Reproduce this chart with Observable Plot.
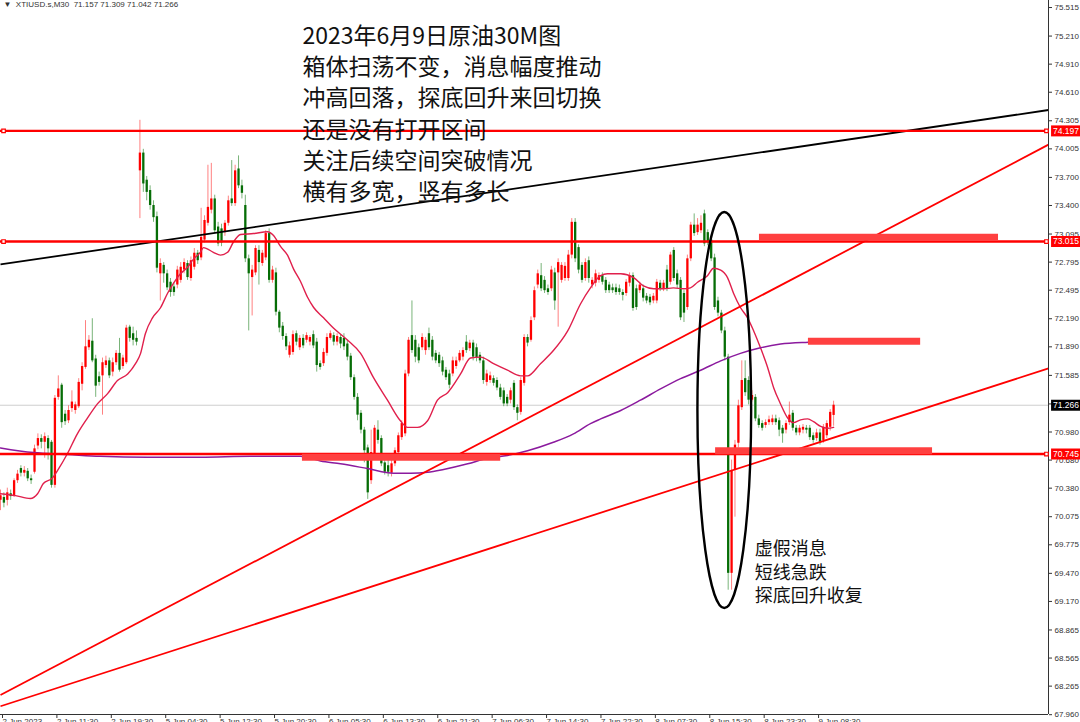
<!DOCTYPE html>
<html><head><meta charset="utf-8">
<script src="https://cdn.jsdelivr.net/npm/d3@7"></script>
<script src="https://cdn.jsdelivr.net/npm/@observablehq/plot@0.6"></script>
<style>
body{margin:0;background:#fff;}
#chart{width:1080px;height:722px;overflow:hidden;}
</style></head><body><div id="chart"></div>
<script>
// ---- Candle data (30M bars, index 0 = first visible bar) ----
const opens=[70.25,70.28,70.25,70.32,70.30,70.46,70.59,70.54,70.56,70.48,
70.55,70.83,70.91,70.87,70.91,70.87,70.41,71.35,71.48,71.17,
71.10,71.23,71.21,71.25,71.49,71.67,71.88,71.95,71.76,71.57,
71.58,71.69,71.74,71.62,71.72,71.82,71.68,71.72,72.10,72.03,
71.98,73.77,73.96,73.67,73.56,73.40,73.28,72.67,72.76,72.67,
72.58,72.53,72.55,72.60,72.71,72.78,72.62,72.74,72.89,72.84,
73.03,73.21,73.35,73.47,73.17,73.15,73.11,73.21,73.47,73.42,
73.79,73.61,73.40,72.83,72.63,72.68,72.92,72.78,72.84,73.10,
72.60,72.68,72.26,72.11,72.00,71.80,71.83,72.03,71.88,71.98,
71.96,71.94,72.02,71.94,71.71,71.71,71.82,71.98,72.01,71.94,
71.99,71.98,71.92,71.79,71.56,71.35,71.18,71.00,70.81,70.46,
70.75,71.00,70.91,70.65,70.62,70.54,70.64,70.76,70.92,70.96,
71.60,72.01,71.96,71.88,71.88,71.85,72.03,71.96,71.82,71.80,
71.74,71.64,71.60,71.60,71.68,71.74,71.78,71.94,71.87,71.93,
71.88,71.80,71.74,71.51,71.53,71.55,71.53,71.45,71.42,71.35,
71.32,71.50,71.24,71.19,71.50,71.99,71.96,72.20,72.55,72.65,
72.60,72.51,72.51,72.68,72.68,72.60,72.62,72.62,72.87,73.22,
72.95,72.76,72.62,72.81,72.55,72.57,72.60,72.65,72.60,72.55,
72.52,72.52,72.51,72.47,72.46,72.57,72.65,72.51,72.49,72.51,
72.43,72.42,72.38,72.38,72.57,72.51,72.71,72.58,72.92,72.67,
72.60,72.46,72.31,72.83,73.19,73.11,73.13,73.31,73.11,73.03,
72.84,72.38,72.25,72.06,71.78,69.47,70.57,70.86,71.24,71.55,
71.53,71.32,71.35,71.12,71.07,71.05,71.08,71.08,71.12,71.10,
71.02,71.00,71.08,71.18,71.02,70.97,71.00,71.02,71.02,70.94,
70.91,70.97,70.89,70.94,71.03,71.157];
const highs=[70.36,70.33,70.38,70.36,70.48,70.57,70.62,70.61,70.59,70.52,
70.84,70.96,70.95,70.97,70.94,70.89,71.37,71.58,71.50,71.21,
71.26,71.42,71.30,71.55,71.72,72.17,72.01,72.19,71.80,71.62,
71.77,71.79,71.77,71.77,71.85,71.98,71.80,72.12,72.12,72.10,
72.06,74.31,74.00,73.71,73.61,73.45,73.33,72.83,72.79,72.71,
72.62,72.57,72.75,72.79,72.83,72.81,72.85,72.94,72.92,73.37,
73.29,73.83,73.85,73.51,73.22,73.20,73.24,73.50,73.88,73.83,
73.93,73.67,73.51,72.87,72.76,72.97,72.97,72.92,73.13,73.15,
72.75,72.73,72.28,72.15,72.03,71.94,72.06,72.06,72.01,72.02,
72.04,72.01,72.06,71.98,71.74,71.87,72.03,72.06,72.04,72.03,
72.02,72.03,71.96,71.82,71.59,71.39,71.21,71.03,70.84,71.00,
71.05,71.10,70.94,70.70,70.68,70.68,70.81,70.97,71.10,71.64,
71.99,72.38,72.01,71.92,72.03,71.99,72.09,72.00,71.85,71.83,
71.78,71.67,71.64,71.78,71.78,71.85,71.88,72.01,71.96,71.96,
71.92,71.83,71.78,71.64,71.62,71.58,71.56,71.49,71.45,71.38,
71.45,71.53,71.27,71.56,72.02,72.02,72.21,72.53,72.71,72.78,
72.64,72.55,72.75,72.73,72.83,72.79,72.79,72.92,73.26,73.26,
72.98,72.79,72.83,72.85,72.63,72.71,72.68,72.68,72.63,72.58,
72.56,72.56,72.55,72.50,72.61,72.68,72.68,72.55,72.58,72.55,
72.46,72.45,72.46,72.61,72.60,72.60,72.76,72.90,72.95,72.71,
72.63,72.49,72.87,73.22,73.31,73.26,73.29,73.35,73.14,73.06,
72.88,72.42,72.28,72.10,71.81,70.68,70.89,71.32,71.74,71.74,
71.57,71.42,71.38,71.16,71.10,71.11,71.15,71.16,71.16,71.13,
71.05,71.10,71.30,71.21,71.05,71.05,71.06,71.05,71.05,70.97,
71.01,71.01,71.06,71.10,71.22,71.309];
const lows=[70.14,70.17,70.19,70.25,70.28,70.43,70.50,70.50,70.45,70.42,
70.53,70.79,70.80,70.70,70.68,70.38,70.38,71.32,71.02,71.05,
71.07,71.19,71.17,71.23,71.42,71.65,71.85,71.72,71.35,71.47,
71.16,71.66,71.55,71.57,71.69,71.62,71.65,71.70,71.94,71.90,
71.90,73.26,73.54,73.45,73.35,73.22,72.68,72.38,72.57,72.49,
72.42,72.43,72.51,72.57,72.67,72.60,72.59,72.71,72.77,72.81,
73.00,73.18,73.31,73.10,72.96,72.96,73.07,73.18,73.39,73.39,
73.58,73.47,72.79,72.06,72.22,72.65,72.55,72.75,72.81,72.57,
72.57,72.22,72.04,71.96,71.85,71.77,71.80,71.90,71.85,71.87,
71.93,71.90,71.87,71.62,71.64,71.68,71.79,71.96,71.90,71.90,
71.87,71.85,71.74,71.53,71.32,71.10,70.96,70.65,70.26,70.42,
70.72,70.85,70.61,70.52,70.50,70.50,70.61,70.73,70.89,70.93,
71.57,71.82,71.72,71.71,71.85,71.80,71.85,71.74,71.71,71.67,
71.58,71.53,71.44,71.57,71.65,71.72,71.74,71.82,71.84,71.74,
71.73,71.71,71.49,71.47,71.50,71.47,71.42,71.32,71.25,71.25,
71.28,71.21,71.10,71.16,71.47,71.89,71.94,72.17,72.51,72.48,
72.46,72.44,72.48,72.28,72.10,72.57,72.59,72.59,72.83,72.79,
72.67,72.57,72.59,72.57,72.51,72.53,72.57,72.55,72.46,72.46,
72.46,72.44,72.44,72.38,72.43,72.53,72.27,72.28,72.46,72.37,
72.35,72.33,72.35,72.35,72.48,72.48,72.48,72.55,72.59,72.51,
72.17,72.15,72.28,72.80,73.07,73.08,73.10,72.96,72.97,72.80,
72.28,72.21,72.03,71.74,69.29,69.29,70.07,70.81,71.21,71.36,
71.27,71.30,71.09,71.02,70.99,71.02,71.05,71.05,71.05,70.93,
70.86,70.96,71.05,70.99,70.94,70.94,70.96,70.96,70.89,70.86,
70.88,70.84,70.86,70.91,70.99,71.042];
const closes=[70.30,70.22,70.33,70.29,70.46,70.53,70.54,70.57,70.48,70.46,
70.80,70.91,70.87,70.93,70.80,70.41,71.34,71.44,71.08,71.09,
71.21,71.30,71.27,71.51,71.68,71.89,71.96,71.74,71.47,71.51,
71.72,71.74,71.58,71.72,71.82,71.64,71.77,72.09,71.98,71.96,
71.94,73.96,73.63,73.54,73.40,73.27,72.73,72.78,72.67,72.52,
72.47,72.47,72.71,72.74,72.79,72.63,72.81,72.89,72.81,73.06,
73.24,73.38,73.47,73.13,72.99,73.00,73.21,73.45,73.42,73.77,
73.61,73.53,72.83,72.67,72.71,72.94,72.79,72.89,73.10,72.60,
72.71,72.26,72.09,72.00,71.89,71.90,72.02,71.94,71.98,71.90,
72.01,71.99,71.90,71.69,71.67,71.83,71.99,72.03,71.94,72.00,
71.92,71.89,71.78,71.56,71.35,71.16,71.00,70.78,70.33,70.76,
71.02,70.89,70.64,70.55,70.55,70.64,70.78,70.94,71.07,71.60,
71.96,71.85,71.78,71.74,71.99,71.96,71.88,71.78,71.74,71.71,
71.62,71.56,71.48,71.74,71.74,71.82,71.85,71.85,71.93,71.78,
71.77,71.74,71.53,71.60,71.58,71.50,71.45,71.35,71.28,71.28,
71.42,71.24,71.18,71.53,71.99,71.93,72.17,72.49,72.67,72.51,
72.49,72.47,72.71,72.38,72.79,72.76,72.75,72.87,73.22,72.83,
72.71,72.60,72.79,72.62,72.60,72.67,72.65,72.58,72.49,72.49,
72.49,72.47,72.47,72.44,72.58,72.65,72.30,72.31,72.55,72.41,
72.38,72.36,72.43,72.58,72.51,72.57,72.51,72.87,72.62,72.55,
72.20,72.25,72.83,73.19,73.10,73.19,73.21,72.99,73.00,72.83,
72.31,72.25,72.06,71.78,69.47,70.57,70.84,71.26,71.53,71.40,
71.32,71.37,71.12,71.05,71.02,71.08,71.11,71.12,71.08,71.00,
70.96,71.07,71.16,71.02,70.97,71.02,71.03,71.00,70.92,70.89,
70.97,70.87,71.03,71.07,71.19,71.266];

// ---- Moving averages (bar index, price) ----
const redMaBars=[0,4.4,8.8,10.9,12.6,15.3,16.8,19.7,22.6,25.6,28.5,31.5,34.4,37.4,39.7,41.2,42.6,44.7,47.1,49.1,50.9,52.9,55,56.8,58.8,59.7,62.6,64.7,66.8,68.5,70.6,74.4,78.5,80.3,82.4,84.4,86.2,88.2,90.3,92.1,95,97.9,102.1,105.9,109.7,113.8,117.6,119.7,122.6,125.6,128.5,131.5,135.3,138.2,141.2,145,149.1,152.9,155,158.8,162.6,166.8,170.6,173.5,176.5,178.5,182.4,186.2,189.1,192.1,195,197.9,200.9,202.9,205,207.9,209.7,211.8,213.8,215.6,217.6,219.7,221.5,223.5,225.6,227.4,229.4,231.5,233.2,235.3,237.4,239.1,241.2,243.2,245];
const redMaPrices=[70.32,70.30,70.27,70.32,70.43,70.49,70.57,70.75,70.96,71.13,71.28,71.39,71.53,71.60,71.71,71.82,72.03,72.20,72.31,72.46,72.57,72.67,72.74,72.83,72.90,72.95,72.90,72.87,72.90,73.01,73.09,73.10,73.12,73.08,72.96,72.87,72.72,72.59,72.42,72.31,72.20,72.09,71.96,71.82,71.56,71.32,71.10,71.03,71.03,71.10,71.32,71.40,71.60,71.77,71.78,71.71,71.64,71.58,71.58,71.71,71.85,72.06,72.35,72.52,72.65,72.67,72.67,72.63,72.54,72.51,72.51,72.52,72.51,72.52,72.58,72.65,72.73,72.71,72.63,72.46,72.31,72.20,72.06,71.88,71.67,71.45,71.28,71.13,71.08,71.11,71.12,71.09,71.04,71.02,71.03];
const purpleMaBars=[0,9.7,19.7,29.4,43.2,58.8,73.5,88.2,94.1,100,107.9,115.6,120.6,125.6,130.3,137.4,143.2,149.1,155,162.6,168.5,173.5,176.5,182.4,188.2,194.1,200,205.9,211.8,217.6,223.5,229.4,237.6,245];
const purpleMaPrices=[70.81,70.76,70.74,70.72,70.71,70.71,70.72,70.72,70.67,70.64,70.59,70.54,70.54,70.55,70.58,70.64,70.70,70.73,70.78,70.87,70.96,71.07,71.12,71.21,71.32,71.44,71.55,71.64,71.74,71.82,71.88,71.92,71.94,71.95];

// ---- Drawn objects ----
const levels=[74.197,73.015,70.745];
const currentPrice=71.266;
const trendNames=["black","redUpper","redLower"];
const trendColors=["#000000","#ff0000","#ff0000"];
const trendStartBar=[0,0,0], trendStartPrice=[72.77,68.17,68.05];
const trendEndBar=[308.2,308.2,308.2], trendEndPrice=[74.42,74.05,71.66];
const zoneStartBar=[223.2,237.6,210.3,88.8], zoneEndBar=[293.5,270.6,274.1,147.1];
const zonePrice=[73.06,71.95,70.78,70.71];
const ellipseBar=213, ellipsePrice=71.21, ellipseHalfBars=7.9, ellipseHalfPrice=2.115;

// ---- Axes / texts ----
const yTicks=[75.515,75.210,74.910,74.610,74.305,74.005,73.700,73.400,73.095,72.795,72.495,72.190,71.890,71.585,71.280,70.980,70.680,70.380,70.075,69.775,69.470,69.170,68.865,68.565,68.265,67.960];
const xTickBars=[0,16,32,48,64,80,96,112,128,144,160,176,192,208,224,240];
const xTickLabels=["2 Jun 2023","2 Jun 11:30","2 Jun 19:30","5 Jun 04:30","5 Jun 12:30","5 Jun 20:30","6 Jun 05:30","6 Jun 13:30","6 Jun 21:30","7 Jun 06:30","7 Jun 14:30","7 Jun 22:30","8 Jun 07:30","8 Jun 15:30","8 Jun 23:30","9 Jun 08:30"];
const symbolName="XTIUSD.s,M30";
const titleLines=["2023年6月9日原油30M图","箱体扫荡不变，消息幅度推动","冲高回落，探底回升来回切换","还是没有打开区间","关注后续空间突破情况","横有多宽，竖有多长"];
const titleAnchor={bar:88.8, price:75.36};
const noteLines=["虚假消息","短线急跌","探底回升收复"];
const noteAnchor={bar:221.8, price:69.84};

const X_MAX=308.2, Y_MIN=67.962, Y_MAX=75.59;
const candles=opens.map((o,i)=>({i,open:o,high:highs[i],low:lows[i],close:closes[i],up:closes[i]>=o}));
const redMa=redMaBars.map((b,k)=>({b,p:redMaPrices[k]}));
const purpleMa=purpleMaBars.map((b,k)=>({b,p:purpleMaPrices[k]}));
const trends=trendNames.map((n,k)=>({n,c:trendColors[k],b1:trendStartBar[k],p1:trendStartPrice[k],b2:trendEndBar[k],p2:trendEndPrice[k]}));
const zones=zonePrice.map((p,k)=>({p,b1:zoneStartBar[k],b2:zoneEndBar[k]}));
const priceBoxes=[...levels.map(p=>({p,c:"#ff0000"})),{p:currentPrice,c:"#000000"}];
const last=candles[candles.length-1];
const header=`▼  ${symbolName}  ${last.open.toFixed(3)} ${last.high.toFixed(3)} ${last.low.toFixed(3)} ${last.close.toFixed(3)}`;

const plot=Plot.plot({
  width:1080,height:722,marginLeft:0,marginRight:32,marginTop:0,marginBottom:8,
  x:{domain:[0,X_MAX],axis:null},
  y:{domain:[Y_MIN,Y_MAX],axis:null},
  style:{fontFamily:"'Liberation Sans',Arial,sans-serif",fontSize:"8px",background:"#fff",color:"#333",overflow:"visible"},
  marks:[
    Plot.ruleY([currentPrice],{stroke:"#cfcfcf",strokeWidth:1}),
    Plot.ruleX(candles,{x:"i",y1:"low",y2:"high",stroke:d=>d.up?"#ff1a1a":"#0b740b",strokeOpacity:0.55,strokeWidth:1}),
    Plot.ruleX(candles,{x:"i",y1:"open",y2:"close",stroke:d=>d.up?"#ff0000":"#066d06",strokeWidth:2.3}),
    Plot.line(redMa,{x:"b",y:"p",stroke:"#e0204c",strokeWidth:1.4,curve:"monotone-x"}),
    Plot.line(purpleMa,{x:"b",y:"p",stroke:"#8b1a9e",strokeWidth:1.5,curve:"monotone-x"}),
    Plot.link(trends,{x1:"b1",y1:"p1",x2:"b2",y2:"p2",stroke:"c",strokeWidth:1.8}),
    Plot.ruleY(levels,{stroke:"#ff0000",strokeWidth:2.4}),
    Plot.dot(levels.slice(0,2),{x:0.9,y:d=>d,symbol:"square",r:2,stroke:"#ff0000",fill:"#fff",strokeWidth:1.2}),
    Plot.ruleY(zones,{y:"p",x1:"b1",x2:"b2",stroke:"#ff4040",strokeWidth:7}),
    Plot.ruleX([X_MAX],{stroke:"#333",strokeWidth:1}),
    Plot.ruleY([Y_MIN],{stroke:"#333",strokeWidth:1}),
    Plot.axisY({anchor:"right",ticks:yTicks,tickFormat:d=>d.toFixed(3),tickSize:3,tickPadding:3,fontSize:8}),
    Plot.axisX({anchor:"bottom",ticks:xTickBars,tickFormat:d=>xTickLabels[xTickBars.indexOf(d)],tickSize:4,tickPadding:0,textAnchor:"start",dx:2,fontSize:8}),
    Plot.ruleY(priceBoxes,{y:"p",x1:X_MAX+0.9,x2:X_MAX+9.5,stroke:"c",strokeWidth:11}),
    Plot.dot(priceBoxes.slice(0,3),{x:X_MAX-0.6,y:"p",symbol:"square",r:2,stroke:"#ff0000",fill:"#fff",strokeWidth:1.2}),
    Plot.text(priceBoxes,{y:"p",x:X_MAX+1.3,text:d=>d.p.toFixed(3),textAnchor:"start",fill:"#fff",fontSize:8.5}),
    Plot.text([header],{frameAnchor:"top-left",dx:3,dy:1,textAnchor:"start",lineAnchor:"top",fontSize:8,fill:"#333"}),
    Plot.text([titleLines.join("\n")],{x:titleAnchor.bar,y:titleAnchor.price,textAnchor:"start",lineAnchor:"top",lineHeight:1.355,fontSize:23,fill:"#111",fontFamily:"'Noto Sans CJK SC',sans-serif"}),
    Plot.text([noteLines.join("\n")],{x:noteAnchor.bar,y:noteAnchor.price,textAnchor:"start",lineAnchor:"top",lineHeight:1.3,fontSize:18,fill:"#111",fontFamily:"'Noto Sans CJK SC',sans-serif"})
  ]
});
// ellipse annotation positioned through the plot's scales
const sx=plot.scale("x"), sy=plot.scale("y");
const cx=sx.apply(ellipseBar), cy=sy.apply(ellipsePrice);
const rx=sx.apply(ellipseBar+ellipseHalfBars)-cx;
const ry=sy.apply(ellipsePrice-ellipseHalfPrice)-cy;
const el=document.createElementNS("http://www.w3.org/2000/svg","ellipse");
el.setAttribute("cx",cx);el.setAttribute("cy",cy);el.setAttribute("rx",rx);el.setAttribute("ry",ry);
el.setAttribute("fill","none");el.setAttribute("stroke","#000");el.setAttribute("stroke-width","2.4");
plot.appendChild(el);
document.getElementById("chart").appendChild(plot);
</script></body></html>
